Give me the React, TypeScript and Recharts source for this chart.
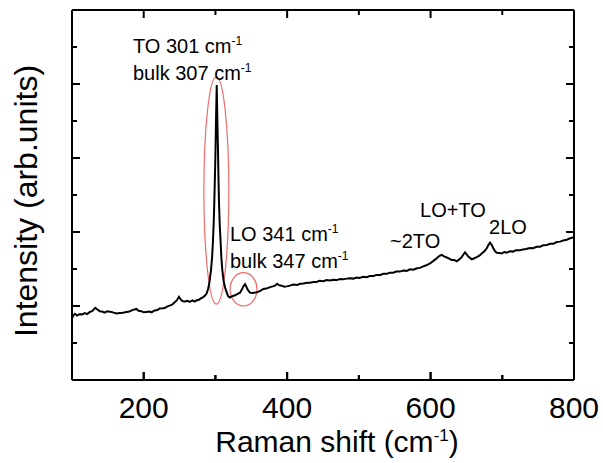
import React from 'react';
import { LineChart, Line, XAxis, YAxis, ReferenceArea, ReferenceDot, ReferenceLine } from 'recharts';

const ramanShift = [
  100, 102, 104, 107, 111, 114, 118, 121, 125, 128,
  132.5, 135, 138.6, 142, 145.6, 149, 154.8, 158, 162, 166.5,
  171, 175.7, 180, 184, 189.7, 193, 196.6, 200, 203.6, 208,
  211, 215.3, 219, 222, 226.9, 230, 233, 236.2, 240, 243.2,
  246, 249.2, 252, 254.8, 258, 261, 264.1, 268, 271, 273.3,
  277, 280.3, 283, 285.5, 287.5, 289.7, 291.5, 293.8, 295.5, 296.6,
  297.6, 298.4, 299.3, 300.1, 301, 301.8, 302.7, 303.6, 304.3, 305,
  306, 307.1, 308.3, 309.6, 311.4, 313.4, 315.5, 317.5, 320, 323,
  327.3, 331, 334.3, 337, 339, 341.2, 343, 344.7, 346.5, 348.2,
  352, 357.6, 362, 366.8, 371, 376.1, 380, 383, 386, 389,
  392.4, 396, 399.4, 404, 408.6, 414, 418, 422.5, 428, 432,
  436.5, 441, 445, 450.4, 455, 460, 464.4, 469, 474, 478.3,
  483, 487, 492.3, 497, 501, 506.2, 511, 515, 520.2, 525,
  530, 534.1, 539, 543, 548.1, 552, 557, 562, 567, 571,
  576, 581, 585, 589.9, 594, 599.2, 604, 608.6, 612, 615.5,
  619, 622.5, 626, 629.5, 633, 636.5, 640, 643.4, 646, 648,
  650, 652.6, 655, 657.4, 661, 664.4, 668, 671.3, 675, 678.3,
  681, 682.9, 685, 687.5, 690, 692.3, 696, 699.2, 703, 706,
  710.8, 715, 719, 724.7, 729, 733, 738.7, 743, 748, 752.6,
  757, 762, 766.6, 771, 776, 780.5, 785, 790, 794.5, 800,
];

const intensity = [
  1.67, 1.75, 1.79, 1.74, 1.78, 1.77, 1.81, 1.78, 1.84, 1.86,
  1.95, 1.91, 1.86, 1.85, 1.82, 1.86, 1.84, 1.82, 1.80, 1.81,
  1.82, 1.84, 1.85, 1.89, 1.92, 1.87, 1.86, 1.83, 1.84, 1.85,
  1.83, 1.88, 1.89, 1.93, 1.94, 1.95, 1.99, 2.01, 2.04, 2.10,
  2.15, 2.25, 2.17, 2.13, 2.12, 2.14, 2.11, 2.15, 2.12, 2.15,
  2.17, 2.21, 2.24, 2.28, 2.33, 2.45, 2.62, 2.97, 3.35, 3.78,
  4.25, 4.78, 5.5, 6.2, 7.2, 7.97, 7.0, 6.2, 5.4, 4.78,
  4.2, 3.78, 3.3, 2.97, 2.68, 2.50, 2.38, 2.27, 2.23, 2.26,
  2.29, 2.33, 2.36, 2.45, 2.53, 2.59, 2.53, 2.45, 2.40, 2.36,
  2.35, 2.37, 2.40, 2.46, 2.47, 2.51, 2.53, 2.55, 2.60, 2.56,
  2.55, 2.52, 2.53, 2.55, 2.58, 2.57, 2.60, 2.61, 2.63, 2.63,
  2.65, 2.65, 2.68, 2.67, 2.70, 2.69, 2.71, 2.70, 2.73, 2.72,
  2.74, 2.75, 2.74, 2.77, 2.76, 2.79, 2.78, 2.81, 2.81, 2.84,
  2.84, 2.87, 2.87, 2.90, 2.90, 2.93, 2.93, 2.96, 2.95, 2.99,
  2.98, 3.02, 3.03, 3.07, 3.10, 3.15, 3.22, 3.29, 3.35, 3.38,
  3.34, 3.31, 3.28, 3.24, 3.24, 3.21, 3.26, 3.32, 3.40, 3.45,
  3.40, 3.34, 3.30, 3.26, 3.29, 3.32, 3.36, 3.42, 3.48, 3.56,
  3.66, 3.71, 3.66, 3.56, 3.48, 3.44, 3.43, 3.42, 3.46, 3.44,
  3.48, 3.47, 3.51, 3.51, 3.53, 3.54, 3.57, 3.56, 3.60, 3.60,
  3.64, 3.65, 3.68, 3.68, 3.73, 3.74, 3.77, 3.79, 3.83, 3.86,
];

const xTicks = [200, 300, 400, 500, 600, 700, 800];
const xLabelled = [200, 400, 600, 800];
const innerXTicks = [200, 300, 400, 500, 600, 700];
const yTicks = [1, 2, 3, 4, 5, 6, 7, 8, 9];
const yMajor = [2, 4, 6, 8];
const X_MIN = 100;
const X_MAX = 800;
const Y_MIN = 0;
const Y_MAX = 10;

const annotations = [
  { x: 185, y: 8.84, text: 'TO 301 cm', sup: '-1' },
  { x: 185, y: 8.11, text: 'bulk 307 cm', sup: '-1' },
  { x: 320.3, y: 3.76, text: 'LO 341 cm', sup: '-1' },
  { x: 320.3, y: 3.03, text: 'bulk 347 cm', sup: '-1' },
  { x: 543.5, y: 3.57, text: '~2TO', sup: '' },
  { x: 585.3, y: 4.41, text: 'LO+TO', sup: '' },
  { x: 681.5, y: 3.95, text: '2LO', sup: '' },
];

const ellipseCx = [301.3, 339.2];
const ellipseCy = [5.12, 2.45];
const ellipseRx = [17.4, 18.8];
const ellipseRy = [3.07, 0.45];

const data = ramanShift.map((x, i) => ({ x, y: intensity[i] }));

const FONT = '"Liberation Sans", Arial, sans-serif';
const W = 603;
const H = 463;
const M_TOP = 10;
const M_RIGHT = 29;
const M_BOTTOM = 53;
const X_AXIS_H = 30;
const Y_AXIS_W = 72;
const PLOT_W = W - M_RIGHT - Y_AXIS_W;
const PLOT_H = H - M_TOP - M_BOTTOM - X_AXIS_H;
// pixel lengths of tick marks expressed in data units
const pxToX = (px: number) => (px * (X_MAX - X_MIN)) / PLOT_W;
const pxToY = (px: number) => (px * (Y_MAX - Y_MIN)) / PLOT_H;
const MAJOR_LEN = 8;
const MINOR_LEN = 5;

const BottomTick = (p: any) => {
  const v = p.payload.value;
  const major = xLabelled.includes(v);
  return (
    <g>
      <line x1={p.x} x2={p.x} y1={p.y} y2={p.y - (major ? MAJOR_LEN : MINOR_LEN)} stroke="#000" strokeWidth={2} />
      {major && (
        <text x={p.x} y={p.y + 38} textAnchor="middle" fontSize={30} fontFamily={FONT} fill="#000">
          {v}
        </text>
      )}
    </g>
  );
};

const LeftTick = (p: any) => {
  const len = yMajor.includes(p.payload.value) ? MAJOR_LEN : MINOR_LEN;
  return <line x1={p.x} x2={p.x + len} y1={p.y} y2={p.y} stroke="#000" strokeWidth={2} />;
};

const XLabel = (p: any) => {
  const vb = p.viewBox;
  return (
    <text x={vb.x + vb.width / 2 + 14} y={vb.y + 72} textAnchor="middle" fontSize={30} fontFamily={FONT} fill="#000">
      Raman shift (cm
      <tspan dy={-11} fontSize={17}>-1</tspan>
      <tspan dy={11}>)</tspan>
    </text>
  );
};

const YLabel = (p: any) => {
  const vb = p.viewBox;
  const cx = 37;
  const cy = vb.y + vb.height / 2 + 6;
  return (
    <text x={cx} y={cy} transform={`rotate(-90 ${cx} ${cy})`} textAnchor="middle" fontSize={32} fontFamily={FONT} fill="#000">
      Intensity (arb.units)
    </text>
  );
};

const makeAnnotation = (a: any) => (p: any) => (
  <text x={p.cx} y={p.cy} fontSize={20} fontFamily={FONT} fill="#000">
    {a.text}
    {a.sup && <tspan dy={-8} fontSize={12}>{a.sup}</tspan>}
  </text>
);

const ellipseShape = (p: any) => (
  <ellipse
    cx={p.x + p.width / 2}
    cy={p.y + p.height / 2}
    rx={Math.abs(p.width) / 2}
    ry={Math.abs(p.height) / 2}
    fill="none"
    stroke="#f06a6a"
    strokeWidth={1.2}
  />
);

export default function App() {
  return (
    <div style={{ position: 'absolute', left: 0, top: 0, background: '#fff' }}>
      <LineChart width={W} height={H} data={data} margin={{ top: M_TOP, right: M_RIGHT, bottom: M_BOTTOM, left: 0 }}>
        <XAxis
          xAxisId="b"
          dataKey="x"
          type="number"
          domain={[X_MIN, X_MAX]}
          ticks={xTicks}
          interval={0}
          height={X_AXIS_H}
          tickSize={0}
          tickMargin={0}
          tickLine={false}
          axisLine={{ stroke: '#000', strokeWidth: 2 }}
          tick={BottomTick}
          label={<XLabel />}
        />
        <YAxis
          yAxisId="l"
          type="number"
          domain={[Y_MIN, Y_MAX]}
          ticks={yTicks}
          interval={0}
          width={Y_AXIS_W}
          tickSize={0}
          tickMargin={0}
          tickLine={false}
          axisLine={{ stroke: '#000', strokeWidth: 2 }}
          tick={LeftTick}
          label={<YLabel />}
        />
        <ReferenceLine xAxisId="b" yAxisId="l" y={Y_MAX} stroke="#000" strokeWidth={2} ifOverflow="visible" />
        <ReferenceLine xAxisId="b" yAxisId="l" x={X_MAX} stroke="#000" strokeWidth={2} ifOverflow="visible" />
        {innerXTicks.map((v) => {
          const len = xLabelled.includes(v) ? MAJOR_LEN : MINOR_LEN;
          return (
            <ReferenceLine
              key={'tt' + v}
              xAxisId="b"
              yAxisId="l"
              segment={[{ x: v, y: Y_MAX }, { x: v, y: Y_MAX - pxToY(len) }]}
              stroke="#000"
              strokeWidth={2}
              ifOverflow="visible"
            />
          );
        })}
        {innerXTicks.map((v) => {
          const len = xLabelled.includes(v) ? MAJOR_LEN : MINOR_LEN;
          return (
            <ReferenceLine
              key={'bt' + v}
              xAxisId="b"
              yAxisId="l"
              segment={[{ x: v, y: Y_MIN }, { x: v, y: Y_MIN + pxToY(len) }]}
              stroke="#000"
              strokeWidth={2}
              ifOverflow="visible"
            />
          );
        })}
        {yTicks.map((v) => {
          const len = yMajor.includes(v) ? MAJOR_LEN : MINOR_LEN;
          return (
            <ReferenceLine
              key={'rt' + v}
              xAxisId="b"
              yAxisId="l"
              segment={[{ x: X_MAX, y: v }, { x: X_MAX - pxToX(len), y: v }]}
              stroke="#000"
              strokeWidth={2}
              ifOverflow="visible"
            />
          );
        })}
        <Line
          xAxisId="b"
          yAxisId="l"
          type="linear"
          dataKey="y"
          stroke="#000"
          strokeWidth={2}
          dot={false}
          isAnimationActive={false}
        />
        {ellipseCx.map((cx, i) => (
          <ReferenceArea
            key={'e' + i}
            xAxisId="b"
            yAxisId="l"
            x1={cx - ellipseRx[i]}
            x2={cx + ellipseRx[i]}
            y1={ellipseCy[i] - ellipseRy[i]}
            y2={ellipseCy[i] + ellipseRy[i]}
            shape={ellipseShape}
            ifOverflow="visible"
          />
        ))}
        {annotations.map((a, i) => (
          <ReferenceDot
            key={'a' + i}
            xAxisId="b"
            yAxisId="l"
            x={a.x}
            y={a.y}
            r={0}
            ifOverflow="visible"
            shape={makeAnnotation(a)}
          />
        ))}
      </LineChart>
    </div>
  );
}
